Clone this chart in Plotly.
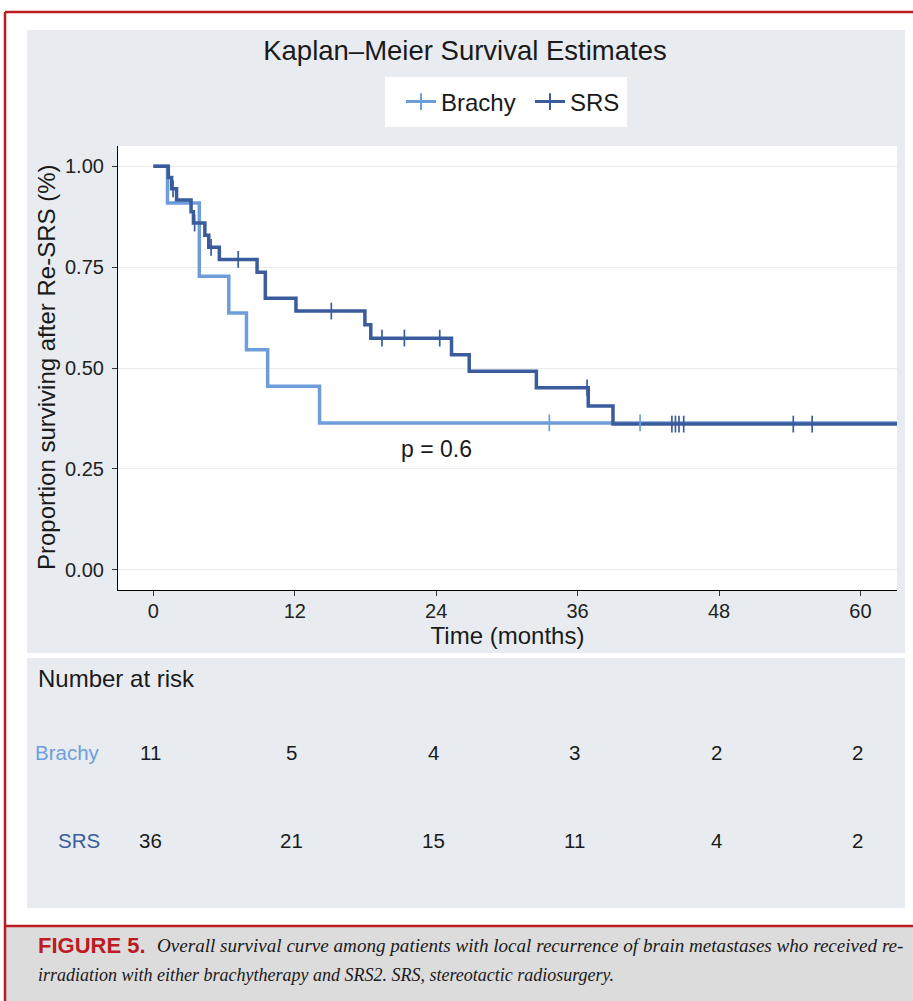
import plotly.graph_objects as go

W, H = 913, 1001

# ---------------- data ----------------
brachy_time = [0, 1.2, 3.9, 6.4, 7.9, 9.7, 14.1, 63.1]
brachy_surv = [1.0, 0.909, 0.727, 0.636, 0.545, 0.455, 0.364, 0.364]
brachy_cens_time = [33.6, 41.3]
brachy_cens_surv = [0.364, 0.364]

srs_time = [0, 1.27, 1.55, 1.97, 3.2, 3.4, 4.37, 4.7, 5.6, 8.8, 9.5, 12.1,
            17.95, 18.45, 25.3, 26.8, 32.5, 36.9, 39.0, 63.1]
srs_surv = [1.0, 0.972, 0.944, 0.916, 0.887, 0.859, 0.829, 0.799, 0.769, 0.737,
            0.673, 0.641, 0.607, 0.574, 0.533, 0.492, 0.451, 0.406, 0.361, 0.361]
srs_cens_time = [1.67, 3.5, 4.9, 7.2, 15.1, 19.4, 21.3, 24.3, 36.8,
                 44.0, 44.3, 44.6, 45.0, 54.3, 55.9]
srs_cens_surv = [0.944, 0.859, 0.799, 0.769, 0.641, 0.574, 0.574, 0.574, 0.451,
                 0.361, 0.361, 0.361, 0.361, 0.361, 0.361]

risk_times = [0, 12, 24, 36, 48, 60]
risk_brachy = [11, 5, 4, 3, 2, 2]
risk_srs = [36, 21, 15, 11, 4, 2]

x_ticks = [0, 12, 24, 36, 48, 60]
y_ticks = [0.0, 0.25, 0.5, 0.75, 1.0]
y_tick_text = ["0.00", "0.25", "0.50", "0.75", "1.00"]

p_text = "p = 0.6"
p_pos = (24, 0.3)

# ---------------- styles ----------------
C_BRACHY = "#6D9EDA"
C_SRS = "#3A5B9C"
PANEL = "#E8ECF0"
RED = "#BC1B22"
FONT = "Liberation Sans"
TXT = "#1A1A1A"


def px(x):
    return x / W


def py(y):
    return 1 - y / H


fig = go.Figure()

fig.add_trace(go.Scatter(x=brachy_time, y=brachy_surv, mode="lines", line_shape="hv",
                         line=dict(color=C_BRACHY, width=3.5), showlegend=False, hoverinfo="skip"))
fig.add_trace(go.Scatter(x=srs_time, y=srs_surv, mode="lines", line_shape="hv",
                         line=dict(color=C_SRS, width=3.5), showlegend=False, hoverinfo="skip"))
fig.add_trace(go.Scatter(x=srs_cens_time, y=srs_cens_surv, mode="markers",
                         marker=dict(symbol="line-ns", size=12, line=dict(width=1.7, color=C_SRS)),
                         showlegend=False, hoverinfo="skip"))
fig.add_trace(go.Scatter(x=brachy_cens_time, y=brachy_cens_surv, mode="markers",
                         marker=dict(symbol="line-ns", size=12, line=dict(width=1.7, color=C_BRACHY)),
                         showlegend=False, hoverinfo="skip"))
# legend entries
for name, col in [("Brachy", C_BRACHY), ("SRS", C_SRS)]:
    fig.add_trace(go.Scatter(x=[None], y=[None], mode="lines+markers", name=name,
                             line=dict(color=col, width=3),
                             marker=dict(symbol="line-ns", size=12, line=dict(width=2, color=col))))

shapes = [
    dict(type="rect", xref="paper", yref="paper", x0=px(27), x1=px(905), y0=py(653), y1=py(30),
         fillcolor=PANEL, line_width=0, layer="below"),
    dict(type="rect", xref="paper", yref="paper", x0=px(27), x1=px(905), y0=py(908), y1=py(658),
         fillcolor=PANEL, line_width=0, layer="below"),
    dict(type="rect", xref="paper", yref="paper", x0=px(118), x1=px(897), y0=py(590), y1=py(146),
         fillcolor="white", line_width=0, layer="below"),
    dict(type="rect", xref="paper", yref="paper", x0=px(385), x1=px(627), y0=py(127), y1=py(77),
         fillcolor="white", line_width=0, layer="below"),
    dict(type="rect", xref="paper", yref="paper", x0=px(6), x1=1, y0=0, y1=py(926),
         fillcolor="#DDDCDC", line_width=0, layer="below"),
    dict(type="line", xref="paper", yref="paper", x0=px(5), x1=1, y0=py(12), y1=py(12),
         line=dict(color=RED, width=2.5)),
    dict(type="line", xref="paper", yref="paper", x0=px(5), x1=px(5), y0=0, y1=py(12),
         line=dict(color=RED, width=2.5)),
    dict(type="line", xref="paper", yref="paper", x0=px(5), x1=1, y0=py(926), y1=py(926),
         line=dict(color=RED, width=2.5)),
]


def ann(text, x, y, size, color=TXT, family=FONT, xanchor="center", **kw):
    return dict(text=text, x=x, y=y, xref=kw.pop("xref", "paper"), yref=kw.pop("yref", "paper"),
                xanchor=xanchor, yanchor="middle", showarrow=False,
                font=dict(size=size, color=color, family=family), **kw)


annotations = [
    ann(p_text, p_pos[0], p_pos[1], 23, xref="x", yref="y"),
    ann("Proportion surviving after Re-SRS (%)", px(46), py(368), 24, textangle=-90),
    ann("Number at risk", px(36), py(678), 24, xanchor="left"),
    ann("Brachy", px(102), py(752), 20.5, color=C_BRACHY, xanchor="right"),
    ann("SRS", px(102), py(840), 20.5, color=C_SRS, xanchor="right"),
    ann("<b>FIGURE 5.</b>", px(36), py(945), 22, color=RED, xanchor="left"),
    ann("<i>Overall survival curve among patients with local recurrence of brain metastases who received re-</i>",
        px(155), py(945), 19.1, family="Liberation Serif", xanchor="left"),
    ann("<i>irradiation with either brachytherapy and SRS2. SRS, stereotactic radiosurgery.</i>",
        px(36), py(975), 18, family="Liberation Serif", xanchor="left"),
]
for t, b, s in zip(risk_times, risk_brachy, risk_srs):
    annotations.append(ann(str(b), t, py(752), 20.5, xref="x", xshift=-3))
    annotations.append(ann(str(s), t, py(840), 20.5, xref="x", xshift=-3))

fig.update_layout(
    width=W, height=H, margin=dict(l=0, r=0, t=0, b=0),
    paper_bgcolor="white", plot_bgcolor="white",
    font=dict(family=FONT, color=TXT),
    title=dict(text="Kaplan–Meier Survival Estimates", x=px(465), y=py(50), xanchor="center",
               yanchor="middle", xref="paper", yref="paper", font=dict(size=27.5, color=TXT, family=FONT)),
    showlegend=True,
    legend=dict(orientation="h", x=px(401), y=py(102), xanchor="left", yanchor="middle",
                bgcolor="rgba(0,0,0,0)", font=dict(size=24, color=TXT, family=FONT),
                entrywidth=84, entrywidthmode="pixels"),
    shapes=shapes, annotations=annotations,
    xaxis=dict(domain=[px(118), px(897)], range=[-3, 63.1], tickvals=x_ticks,
               showgrid=False, zeroline=False, showline=True, linecolor="black", linewidth=1.2,
               ticks="outside", ticklen=5, tickcolor="#333", tickfont=dict(size=20, color="#222"),
               ticklabelstandoff=-2,
               title=dict(text="Time (months)", standoff=1, font=dict(size=24, color=TXT))),
    yaxis=dict(domain=[py(590), py(146)], range=[-0.05, 1.05], tickvals=y_ticks, ticktext=y_tick_text,
               showgrid=True, gridcolor="#EBEBEB", gridwidth=1.2, zeroline=False,
               showline=True, linecolor="black", linewidth=1.2,
               ticks="outside", ticklen=5, tickcolor="#333", tickfont=dict(size=20, color="#222"),
               ticklabelstandoff=4),
)

fig.write_html("out.html", config={"displayModeBar": False},
               post_script="document.body.style.margin='0';document.body.style.overflow='hidden';")
